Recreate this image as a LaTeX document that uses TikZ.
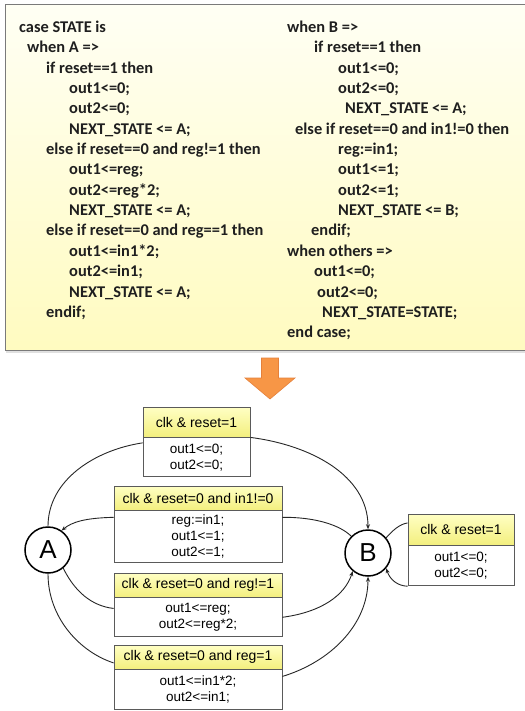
\documentclass[tikz,border=0pt]{standalone}
\usepackage{fontspec}
\setmainfont{Carlito}
\newfontfamily\arialfont{Liberation Sans}
\usetikzlibrary{arrows.meta}

\definecolor{codetop}{HTML}{FFFFF4}
\definecolor{codebot}{HTML}{FFFBC0}
\definecolor{codeframe}{HTML}{7A7A7A}
\definecolor{hdrtop}{HTML}{FFFFC4}
\definecolor{hdrbot}{HTML}{F3EF7E}
\definecolor{boxframe}{HTML}{5A5A5A}
\definecolor{arrowfill}{HTML}{F79646}
\definecolor{arrowedge}{HTML}{E5803A}

\begin{document}
\begin{tikzpicture}[x=1pt,y=-1pt,
  codeline/.style={anchor=base west, inner sep=0pt,
    font=\fontsize{16.4}{20}\selectfont\bfseries, text=black!88},
  hdr/.style={draw=boxframe, line width=0.8pt, top color=hdrtop, bottom color=hdrbot,
    inner sep=0pt, font=\arialfont\fontsize{14}{16}\selectfont},
  bdy/.style={draw=boxframe, line width=0.8pt, fill=white, inner sep=0pt, align=center,
    font=\arialfont\fontsize{13.5}{16}\selectfont},
  st/.style={circle, draw=black, line width=1.5pt, fill=white, minimum size=46pt,
    inner sep=0pt, font=\arialfont\fontsize{26}{26}\selectfont},
  tr/.style={draw=black!85, line width=0.9pt},
  tra/.style={tr, -{Stealth[length=5pt,width=4pt]}}
]
\useasboundingbox (0,0) rectangle (524,711);
\fill[white] (0,0) rectangle (524,711);

% code panel
\fill[black!12] (6,351) rectangle (530,353);
\path[top color=codetop, bottom color=codebot, draw=codeframe, line width=1pt]
  (5,5) rectangle (530,350);

% left column of the case statement
\foreach \x/\t [count=\k from 0] in {
  19/case STATE is,
  27/when A =>,
  46/if reset==1 then,
  69/out1<=0;,
  69/out2<=0;,
  69/NEXT\_STATE <= A;,
  46/else if reset==0 and reg!=1 then,
  69/out1<=reg;,
  69/out2<=reg*2;,
  69/NEXT\_STATE <= A;,
  46/else if reset==0 and reg==1 then,
  69/out1<=in1*2;,
  69/out2<=in1;,
  69/NEXT\_STATE <= A;,
  46/endif;}
  \node[codeline] (L\k) at (\x, 32.5+20.35*\k) {\t};

% right column of the case statement
\foreach \x/\t [count=\k from 0] in {
  287/when B =>,
  314/if reset==1 then,
  338/out1<=0;,
  338/out2<=0;,
  345/NEXT\_STATE <= A;,
  295/else if reset==0 and in1!=0 then,
  338/reg:=in1;,
  338/out1<=1;,
  338/out2<=1;,
  338/NEXT\_STATE <= B;,
  311/endif;,
  287/when others =>,
  314/out1<=0;,
  317/out2<=0;,
  322/NEXT\_STATE=STATE;,
  287/end case;}
  \node[codeline] (R\k) at (\x, 32.5+20.35*\k) {\t};

% block arrow pointing down
\path[fill=arrowfill, draw=arrowedge, line width=0.6pt, line join=miter]
  (261.5,358) -- (278.5,358) -- (278.5,378) -- (295,378) -- (270,399)
  -- (245,378) -- (261.5,378) -- cycle;

% states
\node[st] (A) at (48,550) {A};
\node[st] (B) at (368,553) {B};

% transition boxes: condition header over action body
\node[hdr, minimum width=107pt, minimum height=30pt] (T1h) at (196.5,422) {clk \& reset=1};
\node[bdy, minimum width=107pt, minimum height=39pt, anchor=north] (T1b) at (T1h.south)
  {out1<=0;\\out2<=0;};

\node[hdr, minimum width=168pt, minimum height=24pt] (T2h) at (198,498) {clk \& reset=0 and in1!=0};
\node[bdy, minimum width=168pt, minimum height=52pt, anchor=north] (T2b) at (T2h.south)
  {reg:=in1;\\out1<=1;\\out2<=1;};

\node[hdr, minimum width=168pt, minimum height=24pt] (T3h) at (198,585) {clk \& reset=0 and reg!=1};
\node[bdy, minimum width=168pt, minimum height=39pt, anchor=north] (T3b) at (T3h.south)
  {out1<=reg;\\out2<=reg*2;};

\node[hdr, minimum width=168pt, minimum height=24pt] (T4h) at (198,657) {clk \& reset=0 and reg=1};
\node[bdy, minimum width=168pt, minimum height=40pt, anchor=north] (T4b) at (T4h.south)
  {out1<=in1*2;\\out2<=in1;};

\node[hdr, minimum width=106pt, minimum height=31pt] (T5h) at (461,529.5) {clk \& reset=1};
\node[bdy, minimum width=106pt, minimum height=40pt, anchor=north] (T5b) at (T5h.south)
  {out1<=0;\\out2<=0;};

% transitions
\draw[tr]  (A.north) .. controls (48,480) and (95,450) .. (T1b.165);
\draw[tra] (T1h.south east) .. controls (310,445) and (368,475) .. (B.north);

\draw[tr]  (B.135) .. controls (340,525) and (315,517) .. (T2b.13);
\draw[tra] (T2b.167) .. controls (85,518) and (72,522) .. (A.55);

\draw[tr]  (A.-50) .. controls (75,592) and (92,606) .. (T3b.174);
\draw[tra] (T3b.east) .. controls (322,612) and (345,595) .. (B.-130);

\draw[tr]  (A.south) .. controls (48,618) and (80,652) .. (T4h.184);
\draw[tra] (T4b.9) .. controls (330,662) and (368,625) .. (B.south);

\draw[tr]  (B.40) .. controls (393,530) and (400,524) .. (T5h.173);
\draw[tra] (T5b.south west) .. controls (398,586) and (390,580) .. (B.-40);
\end{tikzpicture}
\end{document}
